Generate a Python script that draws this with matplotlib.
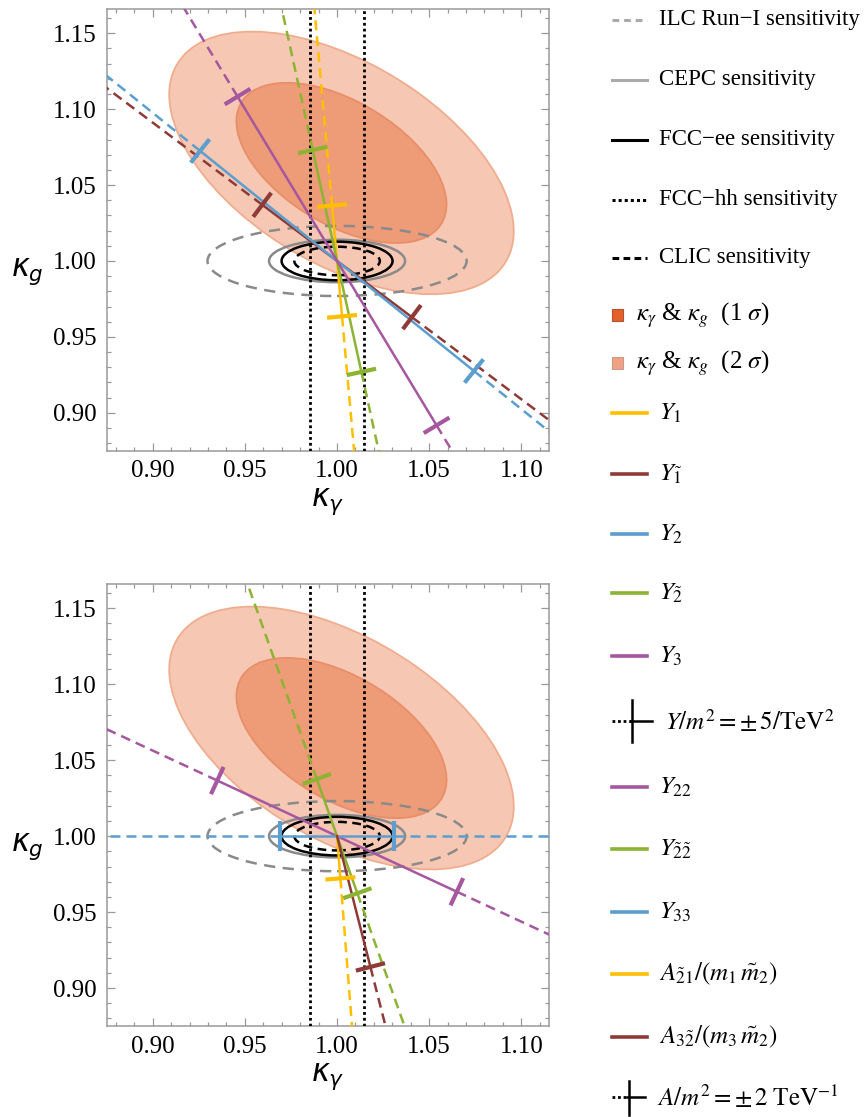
import numpy as np
import matplotlib
matplotlib.use("Agg")
import matplotlib.pyplot as plt
from matplotlib.patches import Ellipse, Rectangle
from matplotlib.ticker import MultipleLocator, FormatStrFormatter

plt.rcParams["font.family"] = ["Liberation Serif", "DejaVu Serif"]
plt.rcParams["mathtext.fontset"] = "stix"

W, H, DPI = 868, 1117, 100

XLIM = (0.875, 1.115)
YLIM = (0.875, 1.166)

# fitted kappa_gamma & kappa_g region
FIT_CENTER = (1.0024, 1.0646)
FIT_SIGMA = (0.0376, 0.0348)
FIT_RHO = -0.52
FIT_CHI2 = [6.18, 2.30]          # 2 sigma, 1 sigma

# collider sensitivities around the SM point (semi-axes in kappa_gamma, kappa_g)
SENS_LABELS = ["ILC Run\u2212I sensitivity", "CEPC sensitivity",
               "FCC\u2212ee sensitivity", "CLIC sensitivity"]
SENS_DX = [0.0703, 0.0369, 0.0301, 0.0232]
SENS_DY = [0.0231, 0.0140, 0.0127, 0.0094]
FCCHH_DX = 0.0145

# shift of (kappa_gamma, kappa_g) at the benchmark coupling
TOP_LABELS = [r"$Y_1$", r"$Y_{\tilde{1}}$", r"$Y_2$", r"$Y_{\tilde{2}}$", r"$Y_3$"]
TOP_DKGAM = [-0.0027, -0.0406, -0.0743, -0.0132, -0.0540]
TOP_DKG = [0.0365, 0.0370, 0.0725, 0.0731, 0.1083]

BOT_LABELS = [r"$Y_{22}$", r"$Y_{\tilde{2}\tilde{2}}$", r"$Y_{33}$",
              r"$A_{\tilde{2}1}/(m_1\,\tilde{m}_2)$", r"$A_{3\tilde{2}}/(m_3\,\tilde{m}_2)$"]
BOT_DKGAM = [-0.0650, -0.0110, -0.0307, 0.0018, 0.0181]
BOT_DKG = [0.0366, 0.0376, 0.0, -0.0278, -0.0861]
BOT_TWO_SIDED = [True, True, True, False, False]

GOLD, BROWN, BLUE, GREEN, PURPLE = "#FFBE00", "#8E3B37", "#5B9ECF", "#8CB432", "#A6579F"
TOP_COLORS = [GOLD, BROWN, BLUE, GREEN, PURPLE]
BOT_COLORS = [PURPLE, GREEN, BLUE, GOLD, BROWN]
GRAY = "#8a8a8a"
FILL_2S, EDGE_2S = "#F6C8B4", "#F0AD8E"
FILL_1S, EDGE_1S = "#EE9B77", "#E98E68"

DASH = (0, (4, 2.4))


def fit_ellipse(ax, chi2, face, edge):
    sx, sy = FIT_SIGMA
    cov = np.array([[sx * sx, FIT_RHO * sx * sy], [FIT_RHO * sx * sy, sy * sy]])
    vals, vecs = np.linalg.eigh(cov)
    angle = np.degrees(np.arctan2(vecs[1, 1], vecs[0, 1]))
    e = Ellipse(FIT_CENTER, 2 * np.sqrt(chi2 * vals[1]), 2 * np.sqrt(chi2 * vals[0]),
                angle=angle, facecolor=face, edgecolor=edge, lw=1.3, zorder=1)
    ax.add_patch(e)


def sensitivities(ax):
    styles = [dict(color=GRAY, ls=(0, (4.5, 3))), dict(color=GRAY, ls="-"),
              dict(color="black", ls="-"), dict(color="black", ls=(0, (3.5, 2.2)))]
    for dx, dy, st in zip(SENS_DX, SENS_DY, styles):
        ax.add_patch(Ellipse((1, 1), 2 * dx, 2 * dy, fill=False, lw=1.8, zorder=3, **st))
    for s in (-1, 1):
        ax.axvline(1 + s * FCCHH_DX, color="black", lw=2.0, ls=(0, (1, 1.1)), zorder=3)


def coupling(ax, dx, dy, color, two_sided=True):
    bb = ax.get_window_extent()
    px = bb.width / (XLIM[1] - XLIM[0])
    py = bb.height / (YLIM[1] - YLIM[0])
    lo = -1 if two_sided else 0
    ax.plot([1 + lo * dx, 1 + dx], [1 + lo * dy, 1 + dy], color=color, lw=1.8, zorder=5)
    sides = [1, -1] if two_sided else [1]
    vx, vy = dx * px, dy * py
    n = np.hypot(vx, vy)
    half = 15.0
    tx, ty = -vy / n * half / px, vx / n * half / py
    for s in sides:
        ax.plot([1 + s * dx, 1 + 25 * s * dx], [1 + s * dy, 1 + 25 * s * dy],
                color=color, lw=1.8, ls=DASH, zorder=5)
        cx, cy = 1 + s * dx, 1 + s * dy
        ax.plot([cx - tx, cx + tx], [cy - ty, cy + ty], color=color, lw=3.0,
                solid_capstyle="butt", zorder=6)


def style_axes(ax, label_y):
    ax.set_xlim(*XLIM)
    ax.set_ylim(*YLIM)
    ax.xaxis.set_major_locator(MultipleLocator(0.05))
    ax.xaxis.set_minor_locator(MultipleLocator(0.01))
    ax.yaxis.set_major_locator(MultipleLocator(0.05))
    ax.yaxis.set_minor_locator(MultipleLocator(0.01))
    ax.xaxis.set_major_formatter(FormatStrFormatter("%.2f"))
    ax.yaxis.set_major_formatter(FormatStrFormatter("%.2f"))
    ax.tick_params(which="both", direction="in", top=True, right=True,
                   color="#9a9a9a", width=0.9, labelsize=18)
    ax.tick_params(which="major", length=5.5, pad=7)
    ax.tick_params(which="minor", length=3)
    for sp in ax.spines.values():
        sp.set_color("#9a9a9a")
        sp.set_linewidth(1.1)
    ax.set_xlabel(r"$\kappa_\gamma$", fontsize=22, math_fontfamily="dejavusans")
    ax.set_ylabel(r"$\kappa_g$", fontsize=22, rotation=0, math_fontfamily="dejavusans")
    ax.xaxis.set_label_coords(0.5, -0.115)
    ax.xaxis.label.set_va("center")
    ax.yaxis.set_label_coords(-0.18, label_y)
    ax.yaxis.label.set_va("center")
    ax.yaxis.label.set_ha("center")


fig = plt.figure(figsize=(W / DPI, H / DPI), dpi=DPI)
ax_top = fig.add_axes([106.7 / W, 1 - 450.7 / H, 442.3 / W, 441.7 / H])
ax_bot = fig.add_axes([106.7 / W, 1 - 1026 / H, 442.3 / W, 442 / H])

for ax in (ax_top, ax_bot):
    style_axes(ax, 0.405)
    fit_ellipse(ax, FIT_CHI2[0], FILL_2S, EDGE_2S)
    fit_ellipse(ax, FIT_CHI2[1], FILL_1S, EDGE_1S)
    sensitivities(ax)

for dx, dy, c in zip(TOP_DKGAM, TOP_DKG, TOP_COLORS):
    coupling(ax_top, dx, dy, c)
for dx, dy, c, two in zip(BOT_DKGAM, BOT_DKG, BOT_COLORS, BOT_TWO_SIDED):
    coupling(ax_bot, dx, dy, c, two)

# legend, laid out in figure pixels
lax = fig.add_axes([0, 0, 1, 1], zorder=-1)
lax.set_xlim(0, W)
lax.set_ylim(H, 0)
lax.axis("off")

LEG_Y = [20, 80, 140, 200, 258, 315, 363, 413, 474, 534, 593, 656, 721,
         787, 849, 912, 974, 1037, 1097]
x0, x1, xt = 612, 647, 659
txt = dict(fontsize=16.5, va="center", ha="left")
mtxt = dict(fontsize=18, va="center", ha="left")

sens_styles = [dict(color="#aaaaaa", ls=(0, (2.2, 1.6))), dict(color="#aaaaaa", ls="-"),
               dict(color="black", ls="-"), dict(color="black", ls=(0, (1, 1))),
               dict(color="black", ls=(0, (2.2, 1.4)))]
sens_text = SENS_LABELS[:3] + ["FCC\u2212hh sensitivity", SENS_LABELS[3]]
for y, lab, st in zip(LEG_Y[:5], sens_text, sens_styles):
    lax.plot([x0, x1], [y, y], lw=2.2, **st)
    lax.text(xt, y, lab, **txt)

for y, face, edge, s in [(LEG_Y[5], "#E3602A", "#B5532E", "1"), (LEG_Y[6], "#F0A384", "#C99A88", "2")]:
    lax.add_patch(Rectangle((x0, y - 6), 11, 12, facecolor=face, edgecolor=edge, lw=0.8))
    lax.text(636, y, r"$\kappa_\gamma$ & $\kappa_g$  (" + s + r" $\sigma$)", **mtxt)

for y, lab, c in zip(LEG_Y[7:12], TOP_LABELS, TOP_COLORS):
    lax.plot([x0, x1], [y, y], color=c, lw=2.6)
    lax.text(xt, y, lab, **mtxt)

y = LEG_Y[12]
lax.plot([x0, 631], [y, y], color="black", lw=2.0, ls=(0, (1, 1)))
lax.plot([631, 652], [y, y], color="black", lw=1.8)
lax.plot([632, 632], [y - 21, y + 21], color="black", lw=1.8)
lax.text(665, y, r"$Y/m^2 = \pm\,5/\mathrm{TeV}^2$", **mtxt)

for y, lab, c in zip(LEG_Y[13:18], BOT_LABELS, BOT_COLORS):
    lax.plot([x0, x1], [y, y], color=c, lw=2.6)
    lax.text(xt, y, lab, **mtxt)

y = LEG_Y[18]
lax.plot([x0, 627], [y, y], color="black", lw=2.0, ls=(0, (1, 1)))
lax.plot([627, 645], [y, y], color="black", lw=1.8)
lax.plot([629, 629], [y - 16, y + 18], color="black", lw=1.8)
lax.text(657, y, r"$A/m^2 = \pm\,2\ \mathrm{TeV}^{-1}$", **mtxt)

fig.savefig("out.png", dpi=DPI)
